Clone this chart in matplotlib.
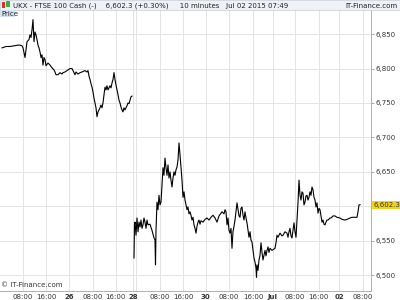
import matplotlib
matplotlib.use("Agg")
import matplotlib.pyplot as plt
from matplotlib.patches import Rectangle

# 10-minute bars on a compressed session axis (bar number, close price)
week_bars = [4, 12, 20, 28, 36, 40, 44, 46, 50, 52, 54, 58, 60, 62, 64, 66, 68, 70, 72, 74,
             76, 78, 80, 82, 84, 86, 88, 90, 92, 96, 100, 104, 108, 110, 112, 116, 120, 124, 126, 130,
             134, 140, 144, 148, 150, 152, 156, 160, 164, 170, 174, 176, 178, 180, 182, 184, 186, 188, 190, 192,
             194, 196, 198, 200, 202, 204, 206, 208, 210, 212, 214, 216, 218, 220, 222, 224, 226, 228, 230, 232,
             234, 236, 238, 240, 242, 244, 246, 248, 250, 252, 254, 256, 258, 260, 262, 264]
week_close = [6830, 6832, 6832, 6833, 6834, 6834, 6833, 6830, 6816, 6827, 6839, 6842, 6849, 6845, 6856, 6871, 6839, 6853, 6849, 6842,
              6834, 6830, 6824, 6816, 6820, 6805, 6816, 6813, 6804, 6808, 6805, 6801, 6798, 6795, 6791, 6791, 6794, 6792, 6794, 6795,
              6797, 6800, 6800, 6794, 6791, 6795, 6792, 6794, 6795, 6797, 6795, 6797, 6789, 6784, 6778, 6773, 6766, 6757, 6750, 6743,
              6730, 6737, 6740, 6743, 6747, 6743, 6750, 6762, 6773, 6769, 6775, 6769, 6772, 6775, 6772, 6779, 6784, 6794, 6784, 6776,
              6769, 6762, 6754, 6750, 6744, 6740, 6737, 6743, 6740, 6743, 6746, 6750, 6749, 6754, 6759, 6760]

gap_bars = [268, 269, 270, 272, 274, 276, 278, 280, 282, 284, 286, 288, 290, 292, 294, 296, 300, 304, 308, 310,
            311, 312, 314, 316, 318, 320, 322, 324, 326, 328, 330, 332, 334, 336, 338, 340, 342, 344, 346, 348,
            350, 352, 354, 356, 358, 360, 362, 364, 366, 368, 370, 372, 374, 376, 378, 380, 382, 384, 386, 388,
            390, 392, 394, 396, 398, 400, 402, 406, 410, 414, 418, 422, 426, 430, 434, 438, 444, 448, 450, 452,
            454, 456, 458, 460, 462, 464, 466, 468, 470, 472, 474, 476, 478, 480, 482, 484, 486, 488, 490, 492,
            494, 496, 498, 500, 502, 504, 506, 508, 510, 512, 513, 514, 516, 518, 520, 522, 524, 526, 528, 530,
            532, 534, 536, 538, 540, 544, 548, 550, 552, 554, 556, 560, 564, 566, 570, 574, 576, 578, 580, 582,
            584, 586, 588, 590, 592, 594, 596, 598, 600, 602, 604, 606, 608, 610, 612, 614, 616, 618, 620, 622,
            624, 626, 628, 630, 632, 634, 636, 638, 640, 642, 644, 646, 648, 650, 652, 654, 656, 660, 662, 666,
            670, 674, 680, 684, 690, 694, 700, 704, 710, 714, 716, 718, 720]
gap_close = [6525, 6573, 6577, 6558, 6583, 6563, 6577, 6570, 6580, 6568, 6573, 6583, 6577, 6568, 6580, 6573, 6574, 6565, 6554, 6551,
             6515, 6565, 6606, 6595, 6616, 6602, 6606, 6631, 6656, 6645, 6670, 6656, 6645, 6660, 6641, 6650, 6638, 6628, 6641, 6650,
             6645, 6653, 6657, 6667, 6692, 6675, 6656, 6638, 6613, 6621, 6609, 6602, 6595, 6599, 6589, 6592, 6587, 6580, 6584, 6573,
             6568, 6561, 6571, 6577, 6580, 6574, 6579, 6577, 6581, 6583, 6580, 6584, 6587, 6583, 6577, 6586, 6592, 6589, 6595, 6592,
             6573, 6583, 6565, 6561, 6568, 6539, 6563, 6571, 6580, 6592, 6605, 6595, 6586, 6584, 6597, 6599, 6587, 6580, 6592, 6583,
             6576, 6565, 6555, 6563, 6551, 6548, 6536, 6525, 6519, 6510, 6497, 6515, 6507, 6522, 6529, 6547, 6533, 6522, 6529, 6536,
             6528, 6536, 6541, 6533, 6539, 6536, 6538, 6539, 6547, 6558, 6555, 6561, 6557, 6558, 6563, 6561, 6555, 6563, 6568, 6557,
             6554, 6565, 6576, 6563, 6555, 6580, 6605, 6638, 6616, 6609, 6621, 6619, 6602, 6606, 6615, 6616, 6609, 6613, 6621, 6616,
             6628, 6624, 6613, 6609, 6599, 6605, 6590, 6597, 6595, 6586, 6577, 6580, 6574, 6573, 6577, 6580, 6580, 6583, 6583, 6586,
             6586, 6584, 6583, 6581, 6580, 6581, 6583, 6584, 6584, 6584, 6592, 6602, 6602.3]

tick_bars = [46, 92, 138, 185, 231, 266, 319, 366, 411, 458, 506, 545, 590, 637, 678, 726]
tick_labels = ['08:00', '16:00', '26', '08:00', '16:00', '28', '08:00', '16:00', '30',
               '08:00', '16:00', 'Jul', '08:00', '16:00', '02', '08:00']
bold_labels = ['26', '28', '30', 'Jul', '02']
price_ticks = [6500, 6550, 6600, 6650, 6700, 6750, 6800, 6850]
last_price = 6602.3

title_text = 'UKX - FTSE 100 Cash (-)    6,602.3 (+0.30%)     10 minutes   Jul 02 2015 07:49'

assert len(week_bars) == len(week_close)
assert len(gap_bars) == len(gap_close)

fig = plt.figure(figsize=(4, 3), dpi=100)
fig.patch.set_facecolor('white')
ax = fig.add_axes([0.0, 0.03, 0.9275, 0.9367])

grid_c = '#e3e3e3'
for t in tick_bars + [272]:
    ax.axvline(t, color=grid_c, lw=0.7, zorder=0)
for p in price_ticks:
    ax.axhline(p, color=grid_c, lw=0.7, zorder=0)

ax.plot(week_bars, week_close, color='black', lw=0.8, zorder=3)
ax.plot(gap_bars, gap_close, color='black', lw=0.8, zorder=3)

ax.set_xlim(0, 742)
ax.set_ylim(6477, 6885)

# the last-price flag hides the nearby scale label
ax.yaxis.tick_right()
ax.set_yticks(price_ticks)
ax.set_yticklabels(['' if abs(p - last_price) < 20 else f'{p:,}' for p in price_ticks])
ax.tick_params(axis='y', length=2, width=0.5, color='#888888', labelsize=5,
               labelcolor='#333333', pad=1)
ax.set_xticks(tick_bars)
ax.set_xticklabels(tick_labels)
ax.tick_params(axis='x', length=0, labelsize=5, labelcolor='#333333', pad=2)
for lab in ax.get_xticklabels():
    if lab.get_text() in bold_labels:
        lab.set_fontweight('bold')

for side in ['top', 'left']:
    ax.spines[side].set_visible(False)
for side in ['right', 'bottom']:
    ax.spines[side].set_color('#b0b0b0')
    ax.spines[side].set_linewidth(0.7)

# last price marker on the scale
ax.text(1.006, last_price, f'{last_price:,.1f}', transform=ax.get_yaxis_transform(),
        fontsize=5, color='#333333', va='center', ha='left',
        bbox=dict(boxstyle='square,pad=0.15', fc='#f2d21b', ec='none'))

ax.text(0.004, 0.012, '© IT-Finance.com', transform=ax.transAxes, fontsize=5,
        color='#333333', va='bottom', ha='left')

# header bar
fig.patches.append(Rectangle((0, 1 - 10 / 300), 1, 10 / 300, transform=fig.transFigure,
                             fc='#eef1f5', ec='#c8ced6', lw=0.5, zorder=5))
fig.patches.append(Rectangle((0.005, 0.972), 0.008, 0.02, transform=fig.transFigure,
                             fc='#d83030', ec='none', zorder=6))
fig.patches.append(Rectangle((0.016, 0.976), 0.008, 0.02, transform=fig.transFigure,
                             fc='#3cb043', ec='none', zorder=6))
fig.text(0.033, 1 - 5.5 / 300, title_text, fontsize=5, color='#222222',
         va='center', ha='left', zorder=7)
fig.text(0.995, 1 - 5.5 / 300, 'IT-Finance.com', fontsize=5, color='#222222',
         va='center', ha='right', zorder=7)
fig.patches.append(Rectangle((0, 1 - 17 / 300), 0.037, 7 / 300, transform=fig.transFigure,
                             fc='#d5e2f0', ec='none', zorder=5))
fig.text(0.003, 1 - 13.5 / 300, 'Price', fontsize=5, color='#222222',
         va='center', ha='left', zorder=7)

fig.savefig('out.png', dpi=100)
